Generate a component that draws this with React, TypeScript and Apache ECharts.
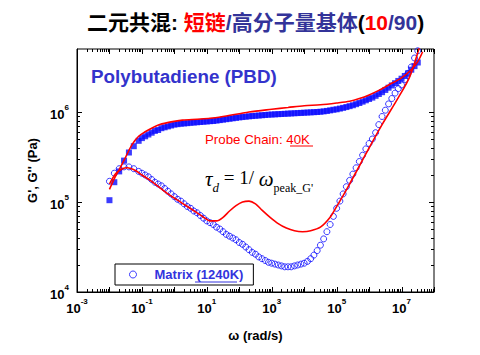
import React, { useEffect, useRef } from 'react';
import * as echarts from 'echarts';

const SANS = '"Liberation Sans", Arial, sans-serif';
const SERIF = '"Liberation Serif", "Times New Roman", serif';
const TITLE_FONT = '"Liberation Sans", "Noto Sans CJK SC", sans-serif';

// axis range (log10 units)
const X_MIN = -3;
const X_MAX = 8;
const Y_MIN = 4;
const Y_MAX = 6.7;
const xLabelExponents = [-3, -1, 1, 3, 5, 7];
const yLabelExponents = [4, 5, 6];

// Matrix (1240K): log10(omega), log10(G'), log10(G'')
const logOmegaMatrix = [
  -2.0, -1.85, -1.7, -1.55, -1.4, -1.25, -1.1,
  -1.0, -0.9, -0.8, -0.7, -0.6, -0.5, -0.4, -0.3, -0.2, -0.1,
  0.0, 0.1, 0.2, 0.3, 0.4, 0.5, 0.6, 0.7, 0.8, 0.9,
  1.0, 1.1, 1.2, 1.3, 1.4, 1.5, 1.6, 1.7, 1.8, 1.9,
  2.0, 2.1, 2.2, 2.3, 2.4, 2.5, 2.6, 2.7, 2.8, 2.9,
  3.0, 3.1, 3.2, 3.3, 3.4, 3.5, 3.6, 3.7, 3.8, 3.9,
  4.0, 4.1, 4.2, 4.3, 4.4, 4.5, 4.6, 4.7, 4.8, 4.9,
  5.0, 5.1, 5.2, 5.3, 5.4, 5.5, 5.6, 5.7, 5.8, 5.9,
  6.0, 6.1, 6.2, 6.3, 6.4, 6.5, 6.6, 6.7, 6.8, 6.9,
  7.0, 7.1, 7.2, 7.3, 7.4, 7.5,
];
const logGpMatrix = [
  5.02, 5.22, 5.34, 5.46, 5.55, 5.62, 5.68,
  5.71, 5.73, 5.75, 5.77, 5.79, 5.80, 5.82, 5.83, 5.84, 5.85,
  5.86, 5.865, 5.87, 5.873, 5.876, 5.88, 5.883, 5.886, 5.889, 5.892,
  5.895, 5.898, 5.90, 5.905, 5.91, 5.915, 5.92, 5.925, 5.93, 5.935,
  5.94, 5.944, 5.948, 5.952, 5.955, 5.958, 5.961, 5.964, 5.967, 5.97,
  5.972, 5.974, 5.976, 5.978, 5.98, 5.982, 5.984, 5.986, 5.988, 5.99,
  5.992, 5.994, 5.996, 5.998, 6.0, 6.003, 6.007, 6.012, 6.018, 6.025,
  6.03, 6.038, 6.046, 6.055, 6.065, 6.075, 6.087, 6.10, 6.115, 6.13,
  6.145, 6.16, 6.18, 6.20, 6.22, 6.245, 6.27, 6.295, 6.32, 6.345,
  6.37, 6.40, 6.43, 6.47, 6.51, 6.55,
];
const logGppMatrix = [
  5.23, 5.32, 5.37, 5.39, 5.39, 5.37, 5.34,
  5.32, 5.30, 5.28, 5.25, 5.22, 5.20, 5.18, 5.15, 5.12, 5.09,
  5.06, 5.03, 5.01, 4.98, 4.95, 4.93, 4.90, 4.88, 4.85, 4.82,
  4.79, 4.77, 4.75, 4.72, 4.70, 4.67, 4.64, 4.62, 4.60, 4.58,
  4.55, 4.53, 4.50, 4.47, 4.44, 4.42, 4.39, 4.37, 4.35, 4.33,
  4.32, 4.31, 4.30, 4.29, 4.28, 4.28, 4.28, 4.29, 4.30, 4.31,
  4.32, 4.34, 4.37, 4.41, 4.46, 4.52, 4.59, 4.67, 4.75, 4.84,
  4.93, 5.01, 5.09, 5.17, 5.24, 5.31, 5.38, 5.45, 5.52, 5.59,
  5.65, 5.70, 5.77, 5.86, 5.95, 6.02, 6.09, 6.15, 6.21, 6.26,
  6.30, 6.36, 6.43, 6.50, 6.60, 6.68,
];

// Probe chain (40K) in the blend: red lines
const logOmegaProbeGp = [
  -2.0, -1.85, -1.7, -1.5, -1.3, -1.1, -0.9, -0.7, -0.45, -0.1,
  0.25, 0.7, 1.1, 1.5, 2.0, 2.3, 3.0, 3.5, 4.0, 4.5,
  5.0, 5.4, 5.7, 6.0, 6.3, 6.6, 7.0, 7.3, 7.5, 7.65,
];
const logGpProbe = [
  5.14, 5.26, 5.36, 5.50, 5.64, 5.73, 5.78, 5.82, 5.86, 5.89,
  5.91, 5.92, 5.93, 5.95, 5.98, 6.00, 6.03, 6.05, 6.07, 6.08,
  6.10, 6.12, 6.15, 6.19, 6.24, 6.30, 6.38, 6.47, 6.56, 6.67,
];
const logOmegaProbeGpp = [
  -2.0, -1.8, -1.6, -1.45, -1.2, -1.0, -0.7, -0.45, -0.2, 0.1,
  0.4, 0.7, 0.9, 1.1, 1.3, 1.5, 1.7, 1.9, 2.1, 2.3,
  2.5, 2.7, 2.95, 3.2, 3.45, 3.7, 3.95, 4.2, 4.5, 4.8,
  5.0, 5.2, 5.4, 5.55, 5.7, 6.0, 6.4, 6.9, 7.25, 7.55,
];
const logGppProbe = [
  5.20, 5.32, 5.37, 5.38, 5.35, 5.30, 5.23, 5.16, 5.09, 5.02,
  4.95, 4.88, 4.83, 4.79, 4.79, 4.83, 4.90, 4.96, 5.00, 5.01,
  4.98, 4.91, 4.83, 4.76, 4.71, 4.68, 4.67, 4.68, 4.72, 4.83,
  4.95, 5.07, 5.20, 5.30, 5.40, 5.60, 5.86, 6.16, 6.39, 6.72,
];

const BLUE = '#0a0aff';
const RED = '#ff0000';

function pairs(xs: number[], ys: number[]) {
  return xs.map((x, i) => [x, ys[i]]);
}

// log-decade tick positions (major at 10^n, minor at k*10^n)
function logTicks(lo: number, hi: number) {
  const out: number[][] = [];
  for (let n = lo; n <= hi; n++) {
    for (let k = 1; k <= 9; k++) {
      const v = n + Math.log10(k);
      if (v <= hi + 1e-9) out.push([v, k === 1 ? 1 : 0]);
    }
  }
  return out;
}

const labelRich = {
  b: { fontFamily: SANS, fontWeight: 'bold', fontSize: 13, color: '#000', lineHeight: 18, verticalAlign: 'bottom' },
  s: { fontFamily: SANS, fontWeight: 'bold', fontSize: 8, color: '#000', lineHeight: 10, verticalAlign: 'top' },
};

export default function App() {
  const ref = useRef<HTMLDivElement>(null);
  useEffect(() => {
    if (!ref.current) return;
    const chart = echarts.init(ref.current, undefined, { renderer: 'svg' });
    const xTickData = logTicks(X_MIN, X_MAX);
    const yTickData = logTicks(Y_MIN, 6);
    const tickStyle = { stroke: '#000', lineWidth: 1 };
    chart.setOption({
      animation: false,
      backgroundColor: '#fff',
      title: {
        text: '{k|二元共混: }{r|短链}{b|/高分子量基体}{k|(}{r|10}{b|/90}{k|)}',
        left: 87,
        top: 9,
        padding: 0,
        textStyle: {
          rich: {
            k: { fontFamily: TITLE_FONT, fontWeight: 'bold', fontSize: 21, color: '#000', lineHeight: 27 },
            r: { fontFamily: TITLE_FONT, fontWeight: 'bold', fontSize: 21, color: '#ff0000', lineHeight: 27 },
            b: { fontFamily: TITLE_FONT, fontWeight: 'bold', fontSize: 21, color: '#333399', lineHeight: 27 },
          },
        },
      },
      grid: {
        left: 77,
        right: 46,
        top: 49,
        bottom: 63,
        show: true,
        borderColor: '#000',
        borderWidth: 1,
        backgroundColor: 'transparent',
      },
      legend: {
        data: [
          {
            name: 'Matrix (1240K)',
            icon: 'circle',
            itemStyle: { color: 'transparent', borderColor: BLUE, borderWidth: 1 },
          },
        ],
        left: 115,
        top: 264,
        orient: 'horizontal',
        padding: [4, 10, 4, 14],
        itemWidth: 7,
        itemHeight: 7,
        borderColor: '#000',
        borderWidth: 1,
        borderRadius: 0,
        backgroundColor: 'transparent',
        selectedMode: false,
        textStyle: { color: '#3333dd', fontFamily: SANS, fontWeight: 'bold', fontSize: 13, padding: [0, 0, 0, 13] },
      },
      xAxis: {
        type: 'value',
        min: X_MIN,
        max: X_MAX,
        interval: 1,
        name: 'ω (rad/s)',
        nameLocation: 'middle',
        nameGap: 37,
        nameTextStyle: { fontFamily: SANS, fontWeight: 'bold', fontSize: 13, color: '#000' },
        axisLine: { show: true, onZero: false, lineStyle: { color: '#000', width: 1 } },
        axisTick: { show: false },
        splitLine: { show: false },
        axisLabel: {
          margin: 5,
          formatter: (v: number) =>
            xLabelExponents.includes(Math.round(v)) && Math.abs(v - Math.round(v)) < 1e-6
              ? `{b|10}{s|${Math.round(v)}}`
              : '',
          rich: labelRich,
        },
      },
      yAxis: {
        type: 'value',
        min: Y_MIN,
        max: Y_MAX,
        interval: 1,
        name: "G', G'' (Pa)",
        nameLocation: 'middle',
        nameGap: 38,
        nameRotate: 90,
        nameTextStyle: { fontFamily: SANS, fontWeight: 'bold', fontSize: 13, color: '#000' },
        axisLine: { show: true, onZero: false, lineStyle: { color: '#000', width: 1 } },
        axisTick: { show: false },
        splitLine: { show: false },
        axisLabel: {
          margin: 8,
          formatter: (v: number) =>
            yLabelExponents.includes(Math.round(v)) && Math.abs(v - Math.round(v)) < 1e-6
              ? `{b|10}{s|${Math.round(v)}}`
              : '',
          rich: labelRich,
        },
      },
      graphic: [
        {
          type: 'text',
          x: 91,
          y: 76,
          style: {
            text: 'Polybutadiene (PBD)',
            fontFamily: SANS,
            fontWeight: 'bold',
            fontSize: 18.8,
            fill: '#3333cc',
            textVerticalAlign: 'middle',
          },
        },
        {
          type: 'text',
          x: 205,
          y: 139,
          style: {
            text: 'Probe Chain: 40K',
            fontFamily: SANS,
            fontSize: 13.3,
            fill: RED,
            textVerticalAlign: 'middle',
          },
        },
        {
          type: 'line',
          shape: { x1: 290, y1: 146, x2: 313, y2: 146 },
          style: { stroke: RED, lineWidth: 1 },
        },
        {
          type: 'text',
          x: 205,
          y: 181,
          style: {
            text: "{i|τ}{si|d}{n| = 1/ }{i|ω}{sub|peak_G'}",
            textVerticalAlign: 'middle',
            rich: {
              i: { fontFamily: SERIF, fontStyle: 'italic', fontSize: 21, lineHeight: 26, verticalAlign: 'top', fill: '#000' },
              n: { fontFamily: SERIF, fontSize: 19, lineHeight: 26, verticalAlign: 'top', fill: '#000' },
              si: { fontFamily: SERIF, fontStyle: 'italic', fontSize: 13, lineHeight: 14, verticalAlign: 'bottom', fill: '#000' },
              sub: { fontFamily: SERIF, fontSize: 12, lineHeight: 14, verticalAlign: 'bottom', fill: '#000' },
            },
          },
        },
        {
          type: 'line',
          shape: { x1: 195, y1: 282, x2: 237, y2: 282 },
          style: { stroke: '#3333dd', lineWidth: 1 },
        },
      ],
      series: [
        {
          name: "Matrix G'",
          type: 'scatter',
          symbol: 'rect',
          symbolSize: 6,
          itemStyle: { color: BLUE },
          data: pairs(logOmegaMatrix, logGpMatrix),
          z: 2,
        },
        {
          name: 'Matrix (1240K)',
          type: 'scatter',
          symbol: 'circle',
          symbolSize: 6,
          itemStyle: { color: 'transparent', borderColor: BLUE, borderWidth: 1 },
          data: pairs(logOmegaMatrix, logGppMatrix),
          z: 2,
        },
        {
          name: "Probe G'",
          type: 'line',
          smooth: 0.3,
          showSymbol: false,
          lineStyle: { color: RED, width: 1.6 },
          itemStyle: { color: RED },
          data: pairs(logOmegaProbeGp, logGpProbe),
          z: 3,
        },
        {
          name: "Probe G''",
          type: 'line',
          smooth: 0.3,
          showSymbol: false,
          lineStyle: { color: RED, width: 1.6 },
          itemStyle: { color: RED },
          data: pairs(logOmegaProbeGpp, logGppProbe),
          z: 3,
        },
        {
          name: 'xTicks',
          type: 'custom',
          silent: true,
          data: xTickData,
          renderItem: (_p: any, api: any) => {
            const v = api.value(0);
            const len = api.value(1) === 1 ? 5 : 3;
            const b = api.coord([v, Y_MIN]);
            const t = api.coord([v, Y_MAX]);
            const x = Math.round(b[0]) + 0.5;
            return {
              type: 'group',
              children: [
                { type: 'line', shape: { x1: x, y1: b[1], x2: x, y2: b[1] - len }, style: tickStyle },
                { type: 'line', shape: { x1: x, y1: t[1], x2: x, y2: t[1] + len }, style: tickStyle },
              ],
            };
          },
          z: 5,
        },
        {
          name: 'yTicks',
          type: 'custom',
          silent: true,
          data: yTickData.map((d) => [X_MIN, d[0], d[1]]),
          encode: { x: 0, y: 1 },
          renderItem: (_p: any, api: any) => {
            const v = api.value(1);
            const len = api.value(2) === 1 ? 5 : 3;
            const l = api.coord([X_MIN, v]);
            const r = api.coord([X_MAX, v]);
            const y = Math.round(l[1]) + 0.5;
            return {
              type: 'group',
              children: [
                { type: 'line', shape: { x1: l[0], y1: y, x2: l[0] + len, y2: y }, style: tickStyle },
                { type: 'line', shape: { x1: r[0], y1: y, x2: r[0] - len, y2: y }, style: tickStyle },
              ],
            };
          },
          z: 5,
        },
      ],
    });
    return () => chart.dispose();
  }, []);
  return (
    <div
      ref={ref}
      style={{ position: 'fixed', left: 0, top: 0, width: 480, height: 355, background: '#fff' }}
    />
  );
}
